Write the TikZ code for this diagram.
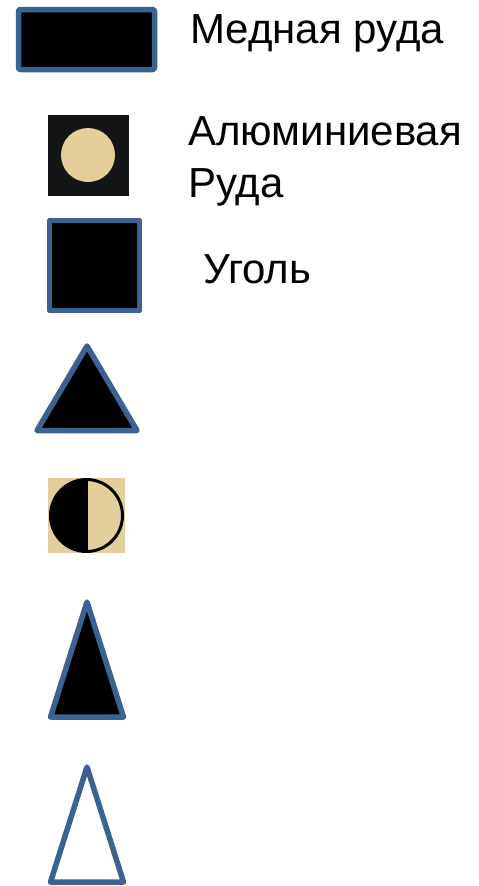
\documentclass[tikz,border=0pt]{standalone}
\usepackage{fontspec}
\setmainfont{Liberation Sans}
\usepackage{xcolor}
\usetikzlibrary{positioning}
\definecolor{edgeblue}{RGB}{60,98,145}
\definecolor{oresand}{RGB}{228,207,155}
\definecolor{oredark}{RGB}{20,21,23}

\begin{document}
\begin{tikzpicture}[x=1pt, y=-1pt,
    sign/.style={draw=edgeblue, line width=5.5pt, line join=round, fill=black},
    label/.style={anchor=base west, inner sep=0pt, font=\fontsize{42}{52}\selectfont}]
    \useasboundingbox (0,0) rectangle (479,886);

    % copper ore
    \draw[sign, rounded corners=2pt] (18.5,9.5) rectangle (154.5,69.5);
    \node[label] (copper) at (190,43) {Медная руда};

    % aluminium ore
    \fill[oredark] (48,115) rectangle (129,196);
    \fill[oresand] (88,155) circle (27);
    \node[label, align=left] (alu) at (188,197) {Алюминиевая\\Руда};

    % coal
    \draw[sign] (49.5,220.5) rectangle (139.5,310.5);
    \node[label] (coal) at (203,283) {Уголь};

    % triangles and half circle
    \draw[sign] (87,346) -- (37,430.5) -- (137,430.5) -- cycle;

    \fill[oresand] (48,478) rectangle (125,553);
    \fill[black] (86.5,479.5) arc (270:90:36) -- cycle;
    \draw[black, line width=3pt] (86.5,515.5) circle (36);
    \draw[black, line width=3pt] (86.5,479.5) -- (86.5,551.5);

    \draw[sign] (87,602) -- (50.5,717) -- (123.5,717) -- cycle;
    \draw[sign, fill=white] (87,767) -- (50.5,882) -- (123.5,882) -- cycle;
\end{tikzpicture}
\end{document}
